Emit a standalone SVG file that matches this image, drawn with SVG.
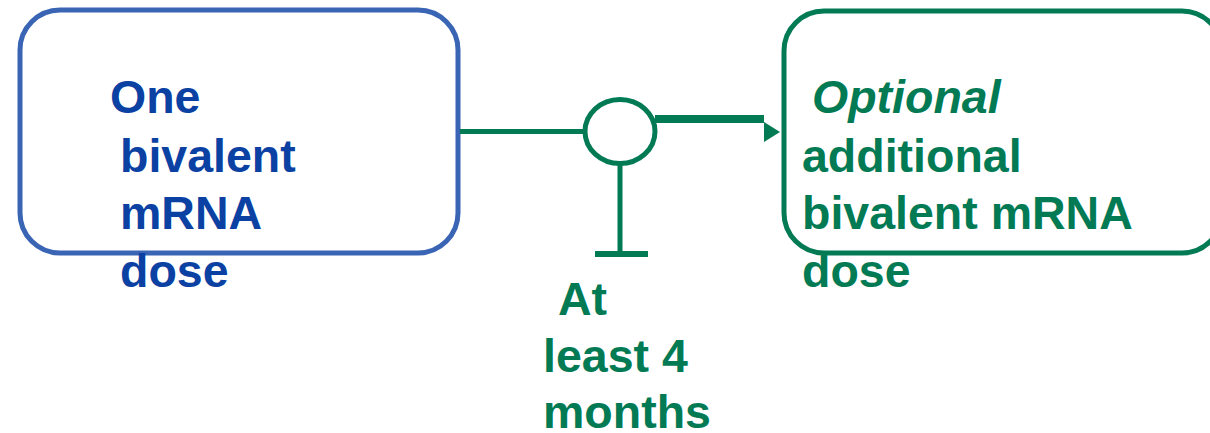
<svg xmlns="http://www.w3.org/2000/svg" width="1210" height="433" viewBox="0 0 1210 433">
<style>
.t{font-family:"Liberation Sans",Arial,sans-serif;font-weight:bold;font-size:46.5px}
.blue{fill:#0b41a3}
.green{fill:#027a54}
.g{stroke:#027a54;fill:none}
</style>
<rect width="1210" height="433" fill="#ffffff"/>
<g id="node-one">
<rect x="20" y="10" width="438" height="243" rx="40" ry="40" fill="#ffffff" stroke="#3a64b4" stroke-width="5"/>
<text class="t blue" x="110" y="113">One</text>
<text class="t blue" x="120" y="172">bivalent</text>
<text class="t blue" x="120" y="229">mRNA</text>
<text class="t blue" x="120" y="287">dose</text>
</g>
<g id="node-optional">
<rect x="784" y="11" width="438" height="242" rx="40" ry="40" fill="#ffffff" stroke="#027a54" stroke-width="5"/>
<text class="t green" x="812" y="113" font-style="italic">Optional</text>
<text class="t green" x="802" y="172">additional</text>
<text class="t green" x="802" y="229">bivalent mRNA</text>
<text class="t green" x="802" y="287">dose</text>
</g>
<g id="node-interval">
<ellipse cx="620" cy="131.5" rx="35" ry="32" fill="#ffffff" stroke="#027a54" stroke-width="5"/>
<text class="t green" x="558" y="315">At</text>
<text class="t green" x="543" y="372">least 4</text>
<text class="t green" x="543" y="428">months</text>
</g>
<g id="connectors">
<line class="g" x1="460" y1="131.5" x2="585" y2="131.5" stroke-width="5"/>
<line class="g" x1="655" y1="119" x2="764" y2="119" stroke-width="8"/>
<path d="M764,122 L780,132 L764,142 Z" fill="#027a54"/>
<line class="g" x1="620" y1="163" x2="620" y2="254" stroke-width="5"/>
<line class="g" x1="595" y1="254" x2="648" y2="254" stroke-width="6"/>
</g>
</svg>
